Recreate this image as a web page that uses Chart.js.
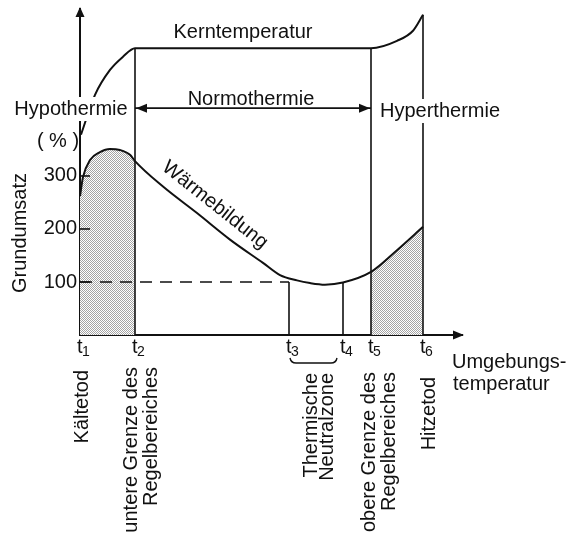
<!DOCTYPE html>
<html><head><meta charset="utf-8">
<style>html,body{margin:0;padding:0;background:#fff}canvas{display:block}</style>
<script src="https://cdn.jsdelivr.net/npm/chart.js@4.4.1/dist/chart.umd.min.js"></script>
</head><body>
<canvas id="c" width="568" height="533"></canvas>
<script>
// ambient temperature positions of the marked points t1..t6 (arbitrary units)
const tickValues = [0, 55, 209, 263, 291, 343];
const tickLabels = ['t1', 't2', 't3', 't4', 't5', 't6'];
const yTicks = [100, 200, 300];
// Wärmebildung (heat production, % of basal rate)
const heatX = [0, 3, 10, 20, 30, 40, 50, 55, 83, 117, 150, 183, 200, 217, 230, 245, 263, 291, 317, 343];
const heatY = [262, 298, 330, 345, 351, 349, 340, 328, 280, 230, 180, 136, 113, 103, 98, 95, 99, 119, 160, 204];
// Kerntemperatur (core temperature, drawn on same vertical scale)
const coreX = [1, 15, 30, 43, 55, 291, 317, 333, 343];
const coreY = [378, 453, 500, 525, 541, 541, 555, 574, 604];
const normoLevel = 428;   // height of the Normothermie arrow
const baseLevel = 100;    // 100 % reference

const FONT = "'Liberation Sans', Arial, Helvetica, sans-serif";
const INK = '#111';

const heat = heatX.map((x, i) => ({x, y: heatY[i]}));
const core = coreX.map((x, i) => ({x, y: coreY[i]}));
const [t1, t2, t3, t4, t5, t6] = tickValues;

const canvas = document.getElementById('c');
const ctx0 = canvas.getContext('2d');
const pc = document.createElement('canvas');
pc.width = 2; pc.height = 2;
const pg = pc.getContext('2d');
pg.fillStyle = '#fff'; pg.fillRect(0, 0, 2, 2);
pg.fillStyle = '#a4a4a4'; pg.fillRect(0, 0, 1, 1); pg.fillRect(1, 1, 1, 1);
const stipple = ctx0.createPattern(pc, 'repeat');

function seg(x0, y0, x1, y1, extra) {
  return Object.assign({data: [{x: x0, y: y0}, {x: x1, y: y1}], borderColor: INK, borderWidth: 1.6,
    pointRadius: 0, fill: false, tension: 0, order: 2}, extra || {});
}

const decor = {
  id: 'decor',
  afterDraw(chart) {
    const {ctx, chartArea: a, scales: {x, y}} = chart;
    ctx.save();
    ctx.strokeStyle = INK; ctx.fillStyle = INK; ctx.lineWidth = 1.6;
    // inner tick marks
    yTicks.forEach(v => {
      const py = y.getPixelForValue(v);
      ctx.beginPath(); ctx.moveTo(a.left, py); ctx.lineTo(a.left + 10, py); ctx.stroke();
    });
    const tri = (p) => { ctx.beginPath(); ctx.moveTo(p[0], p[1]); ctx.lineTo(p[2], p[3]); ctx.lineTo(p[4], p[5]); ctx.closePath(); ctx.fill(); };
    // axis arrows
    tri([a.left, a.top - 2, a.left - 4.5, a.top + 8, a.left + 4.5, a.top + 8]);
    tri([a.right + 2, a.bottom, a.right - 9, a.bottom - 4.5, a.right - 9, a.bottom + 4.5]);
    // Normothermie arrow heads
    const ny = y.getPixelForValue(normoLevel);
    const xl = x.getPixelForValue(t2), xr = x.getPixelForValue(t5);
    tri([xl + 1, ny, xl + 12, ny - 4.5, xl + 12, ny + 4.5]);
    tri([xr - 1, ny, xr - 12, ny - 4.5, xr - 12, ny + 4.5]);

    // x tick labels with subscript digits (t + index)
    ctx.textBaseline = 'alphabetic'; ctx.textAlign = 'left';
    x.ticks.forEach((tk, i) => {
      const px = x.getPixelForValue(tk.value);
      const lab = tickLabels[i];
      ctx.font = '20px ' + FONT;
      ctx.fillText(lab[0], px - 3, a.bottom + 18);
      const w = ctx.measureText(lab[0]).width;
      ctx.font = '14px ' + FONT;
      ctx.fillText(lab.slice(1), px - 3 + w - 0.5, a.bottom + 21);
    });

    ctx.font = '20px ' + FONT;
    const text = (s, px, py, align, bg) => {
      ctx.textAlign = align || 'center';
      if (bg) {
        const w = ctx.measureText(s).width;
        const lx = align === 'left' ? px : px - w / 2;
        ctx.fillStyle = '#fff'; ctx.fillRect(lx - 2, py - 18, w + 4, 24);
        ctx.fillStyle = INK;
      }
      ctx.fillText(s, px, py);
    };
    text('Kerntemperatur', 243, 38);
    text('Normothermie', 251, 105);
    text('Hypothermie', 71, 115, 'center', true);
    text('Hyperthermie', 440, 117, 'center', true);
    text('( % )', 58, 147);
    text('Umgebungs-', 452, 368, 'left');
    text('temperatur', 453, 390, 'left');

    // rotated labels
    const rot = (s, px, py, ang, align, base) => {
      ctx.save(); ctx.translate(px, py); ctx.rotate(ang);
      ctx.textAlign = align; ctx.textBaseline = base || 'alphabetic';
      ctx.fillText(s, 0, 0); ctx.restore();
    };
    rot('Grundumsatz', 26, 233, -Math.PI / 2, 'center');
    rot('Wärmebildung', 215, 205, 38.5 * Math.PI / 180, 'center', 'middle');
    const up = -Math.PI / 2;
    rot('Kältetod', x.getPixelForValue(t1) + 8, 370, up, 'right');
    rot('untere Grenze des', x.getPixelForValue(t2) + 2, 367, up, 'right');
    rot('Regelbereiches', x.getPixelForValue(t2) + 22, 367, up, 'right');
    const mid = (x.getPixelForValue(t3) + x.getPixelForValue(t4)) / 2;
    rot('Thermische', mid + 1, 373, up, 'right');
    rot('Neutralzone', mid + 17, 373, up, 'right');
    rot('obere Grenze des', x.getPixelForValue(t5) + 4, 372, up, 'right');
    rot('Regelbereiches', x.getPixelForValue(t5) + 24, 372, up, 'right');
    rot('Hitzetod', x.getPixelForValue(t6) + 12, 377, up, 'right');

    // bracket under t3..t4
    const bx0 = x.getPixelForValue(t3) + 1, bx1 = x.getPixelForValue(t4) - 6, by = 363;
    ctx.lineWidth = 1.4;
    ctx.beginPath();
    ctx.moveTo(bx0, by - 5); ctx.quadraticCurveTo(bx0 + 1, by, bx0 + 6, by);
    ctx.lineTo(bx1 - 6, by); ctx.quadraticCurveTo(bx1 - 1, by, bx1, by - 5);
    ctx.stroke();
    ctx.restore();
  }
};

new Chart(canvas, {
  type: 'line',
  data: {
    datasets: [
      {label: 'Kältebereich', data: heat.filter(p => p.x <= t2), fill: 'origin', backgroundColor: stipple,
        borderWidth: 0, pointRadius: 0, cubicInterpolationMode: 'monotone', order: 10},
      {label: 'Hitzebereich', data: heat.filter(p => p.x >= t5), fill: 'origin', backgroundColor: stipple,
        borderWidth: 0, pointRadius: 0, cubicInterpolationMode: 'monotone', order: 10},
      {label: 'Wärmebildung', data: heat, borderColor: INK, borderWidth: 2, pointRadius: 0, fill: false,
        cubicInterpolationMode: 'monotone', order: 1},
      {label: 'Kerntemperatur', data: core, borderColor: INK, borderWidth: 2, pointRadius: 0, fill: false,
        cubicInterpolationMode: 'monotone', order: 1},
      seg(t2, 0, t2, coreY[coreX.indexOf(t2)]),
      seg(t5, 0, t5, coreY[coreX.indexOf(t5)]),
      seg(t6, 0, t6, coreY[coreX.indexOf(t6)]),
      seg(t3, 0, t3, baseLevel),
      seg(t4, 0, t4, baseLevel),
      seg(0, baseLevel, t3, baseLevel, {borderDash: [12, 8]}),
      seg(t2, normoLevel, t5, normoLevel)
    ]
  },
  options: {
    responsive: false, animation: false, devicePixelRatio: 1,
    layout: {padding: {top: 9, right: 106, left: 0, bottom: 0}},
    plugins: {legend: {display: false}, tooltip: {enabled: false}},
    scales: {
      x: {
        type: 'linear', min: 0, max: 382,
        afterBuildTicks: s => { s.ticks = tickValues.map(v => ({value: v})); },
        afterFit: s => { s.height = 198; s.paddingLeft = 0; s.paddingRight = 0; },
        ticks: {display: false, autoSkip: false, maxRotation: 0},
        grid: {display: false, drawTicks: false},
        border: {color: INK, width: 2}
      },
      y: {
        min: 0, max: 615,
        afterBuildTicks: s => { s.ticks = yTicks.map(v => ({value: v})); },
        afterFit: s => { s.width = 80; s.paddingTop = 0; s.paddingBottom = 0; },
        ticks: {padding: 3, color: INK, font: {family: FONT, size: 20}},
        grid: {display: false, drawTicks: false},
        border: {color: INK, width: 2}
      }
    }
  },
  plugins: [decor]
});
</script>
</body></html>
